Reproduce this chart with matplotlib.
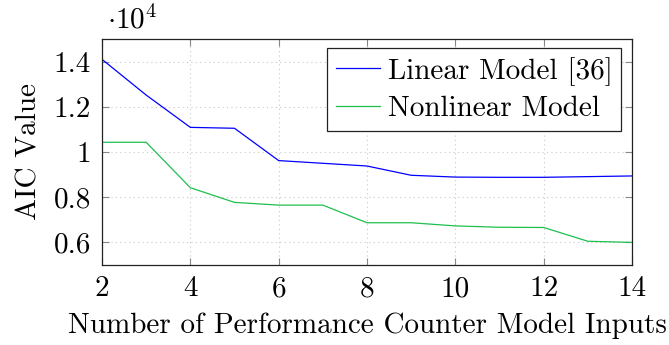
import matplotlib
matplotlib.use("Agg")
import matplotlib.pyplot as plt

x = [2, 3, 4, 5, 6, 7, 8, 9, 10, 11, 12, 13, 14]
linear = [1.41, 1.252, 1.109, 1.105, 0.962, 0.950, 0.938, 0.897, 0.889, 0.888, 0.888, 0.891, 0.894]
nonlinear = [1.043, 1.043, 0.842, 0.777, 0.765, 0.765, 0.687, 0.687, 0.673, 0.667, 0.666, 0.605, 0.600]
xticks = [2, 4, 6, 8, 10, 12, 14]
yticks = [0.6, 0.8, 1.0, 1.2, 1.4]
ytick_labels = ["0.6", "0.8", "1", "1.2", "1.4"]

plt.rcParams['font.family'] = ['cmr10', 'DejaVu Serif']
plt.rcParams['mathtext.fontset'] = 'cm'
plt.rcParams['axes.unicode_minus'] = False
fs = 21

fig = plt.figure(figsize=(6.69, 3.45), dpi=100)
ax = fig.add_axes([102/669, 80/345, 530/669, 226/345])

ax.plot(x, linear, color='#0000ff', lw=0.9, label='Linear Model [36]')
ax.plot(x, nonlinear, color='#1fbf4f', lw=0.9, label='Nonlinear Model')

ax.set_xlim(2, 14)
ax.set_ylim(0.5, 1.5)
ax.set_xticks(xticks)
ax.set_yticks(yticks)
ax.set_yticklabels(ytick_labels)
ax.tick_params(direction='in', top=True, right=True, labelsize=fs, length=5,
               color='#888888', width=0.8, pad=8)
ax.grid(True, color='#c8c8c8', linestyle=(0, (1, 3)), lw=0.8)
for s in ax.spines.values():
    s.set_linewidth(0.9)
    s.set_color('#222222')

ax.set_xlabel('Number of Performance Counter Model Inputs', fontsize=fs, labelpad=7)
ax.set_ylabel('AIC Value', fontsize=fs, labelpad=8)
ax.text(5/530, 1.02, r'$\cdot 10^{4}$', transform=ax.transAxes, fontsize=fs,
        ha='left', va='bottom')

leg = ax.legend(loc='upper right', fontsize=fs, frameon=True, fancybox=False,
                edgecolor='#222222', framealpha=1, borderpad=0.3, handlelength=1.5,
                handletextpad=0.27, labelspacing=0.35, borderaxespad=0,
                bbox_to_anchor=((621 - 102)/530, 1 - 9/226))
leg.get_frame().set_linewidth(0.9)

fig.savefig('out.png', dpi=100)
